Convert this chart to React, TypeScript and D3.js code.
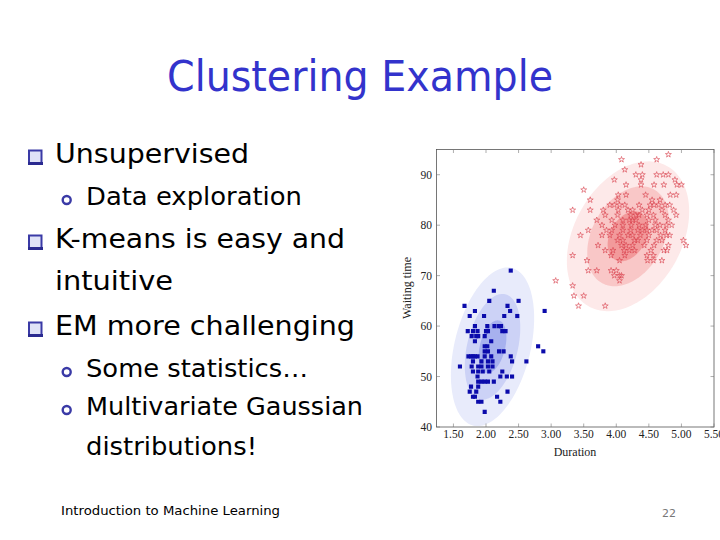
import React from "react";
import * as d3 from "d3";

// ---------- data ----------
const xTicks = [1.5, 2.0, 2.5, 3.0, 3.5, 4.0, 4.5, 5.0, 5.5];
const yTicks = [40, 50, 60, 70, 80, 90];

// cluster 1 (blue squares): [duration, waiting]
const bluePoints: [number, number][] = [
  [2.38, 71], [2.12, 67], [2.05, 65], [2.50, 65], [1.67, 64], [2.33, 64], [1.83, 63], [2.37, 63], [2.90, 63],
  [1.75, 62], [1.97, 62], [2.28, 62], [2.48, 62], [1.83, 60], [2.02, 60], [2.13, 60], [2.20, 60], [2.23, 60],
  [1.72, 59], [1.80, 59], [1.87, 59], [2.00, 59], [2.03, 59], [2.25, 59], [2.30, 59], [1.78, 58], [1.85, 58],
  [1.88, 58], [1.98, 58], [1.83, 57], [2.08, 57], [1.98, 56], [2.02, 56], [2.80, 56], [1.98, 55], [2.03, 55],
  [2.20, 55], [2.27, 55], [2.88, 55], [1.73, 54], [1.77, 54], [1.80, 54], [1.83, 54], [1.87, 54], [1.98, 54],
  [2.08, 54], [2.38, 54], [1.80, 53], [1.93, 53], [2.03, 53], [2.10, 53], [2.40, 53], [2.62, 53], [1.60, 52],
  [1.78, 52], [1.88, 52], [1.93, 52], [2.03, 52], [2.10, 52], [1.80, 51], [1.88, 51], [1.95, 51], [2.05, 51],
  [2.25, 51], [1.87, 50], [2.22, 50], [2.32, 50], [2.40, 50], [1.88, 49], [1.93, 49], [1.98, 49], [2.03, 49],
  [2.12, 49], [1.77, 48], [1.88, 48], [1.75, 47], [1.85, 47], [2.33, 47], [1.80, 46], [1.83, 46], [2.17, 46],
  [1.88, 45], [1.93, 45], [2.22, 45], [1.98, 43],
];

// cluster 2 (red stars): waiting level -> durations
const redRows: [number, number[]][] = [
  [94, [4.80]],
  [93, [4.08, 4.62]],
  [92, [4.38]],
  [91, [4.13]],
  [90, [4.30, 4.40, 4.62, 4.72, 4.80]],
  [89, [3.97, 4.38, 4.90]],
  [88, [4.15, 4.38, 4.58, 4.73, 4.93, 5.00]],
  [87, [3.50]],
  [86, [4.03, 4.15, 4.45, 4.83, 4.92]],
  [85, [3.60, 4.02, 4.55, 4.67]],
  [84, [3.90, 3.97, 4.05, 4.13, 4.35, 4.52, 4.58, 4.65, 4.75, 4.82]],
  [83, [3.33, 3.60, 3.80, 4.03, 4.18, 4.25, 4.40, 4.50, 4.70, 4.88]],
  [82, [3.83, 4.02, 4.22, 4.30, 4.35, 4.47, 4.57, 4.75, 4.92]],
  [81, [3.70, 3.93, 4.10, 4.20, 4.25, 4.30, 4.50, 4.60, 4.80]],
  [80, [3.78, 3.98, 4.10, 4.23, 4.35, 4.45, 4.60, 4.67, 4.77, 4.85]],
  [79, [3.57, 3.85, 3.93, 4.10, 4.22, 4.33, 4.40, 4.47, 4.55, 4.62, 4.75]],
  [78, [3.45, 3.78, 3.90, 4.05, 4.18, 4.25, 4.37, 4.50, 4.68, 4.77, 4.82]],
  [77, [4.02, 4.10, 4.28, 4.33, 4.47, 4.62, 4.70, 5.03]],
  [76, [3.72, 4.08, 4.15, 4.25, 4.43, 4.58, 4.80, 5.07]],
  [75, [3.83, 3.95, 4.12, 4.20, 4.28, 4.53, 4.73, 4.78]],
  [74, [3.33, 3.92, 4.13, 4.47, 4.57]],
  [73, [3.55, 4.05, 4.48, 4.57, 4.70]],
  [71, [3.57, 3.70, 3.92, 4.00]],
  [70, [3.97, 4.05, 4.08]],
  [69, [3.07, 4.05]],
  [68, [3.33]],
  [66, [3.35, 3.50]],
  [64, [3.42, 3.83]],
];

// Gaussian components
const compMeanX = [2.10, 4.18];
const compMeanY = [55.9, 77.8];
const compSdX = [0.213, 0.313];
const compSdY = [5.24, 4.95];
const compRho = [0.36, 0.33];
const contourLevels = [3, 2, 1];
const compFills = [
  ["#e8ebfb", "#ccd2f6", "#a7b1ee"],
  ["#fde9e9", "#f9c7c7", "#f29a9b"],
];

const bulletLines = [
  { level: 0, text: "Unsupervised", base: 163, len: 194 },
  { level: 1, text: "Data exploration", base: 205, len: 216 },
  { level: 0, text: "K-means is easy and", base: 248, len: 290 },
  { level: -1, text: "intuitive", base: 290, len: 118 },
  { level: 0, text: "EM more challenging", base: 335, len: 300 },
  { level: 1, text: "Some statistics…", base: 377, len: 222 },
  { level: 1, text: "Multivariate Gaussian", base: 415, len: 277 },
  { level: -2, text: "distributions!", base: 455, len: 171 },
];

const W = 720, H = 540;
const plot = { left: 436.5, right: 714, top: 149.5, bottom: 427 };

export default function App() {
  const xS = d3.scaleLinear().domain([1.24, 5.5]).range([plot.left, plot.right]);
  const yS = d3.scaleLinear().domain([40, 95]).range([plot.bottom, plot.top]);

  const ellipse = (k: number, r: number) => {
    const pts: [number, number][] = d3.range(0, 2 * Math.PI, (2 * Math.PI) / 160).map((t) => {
      const x = compMeanX[k] + r * compSdX[k] * Math.cos(t);
      const y = compMeanY[k] + r * compSdY[k] * (compRho[k] * Math.cos(t) + Math.sqrt(1 - compRho[k] ** 2) * Math.sin(t));
      return [xS(x), yS(y)];
    });
    return d3.line().curve(d3.curveLinearClosed)(pts) as string;
  };

  const star = d3.symbol().type(d3.symbolStar).size(11)() as string;
  const square = d3.symbol().type(d3.symbolSquare).size(17)() as string;

  const redPoints: [number, number][] = [];
  redRows.forEach(([w, ds]) => ds.forEach((d) => redPoints.push([d, w])));

  const textFont = "'DejaVu Sans', sans-serif";
  const serif = "'Liberation Serif', 'DejaVu Serif', serif";

  return (
    <svg width={W} height={H} style={{ position: "absolute", left: 0, top: 0, background: "#fff" }}>
      <rect x={0} y={0} width={W} height={H} fill="#fff" />
      {/* Title */}
      <text x={167} y={91} fontFamily={textFont} fontSize={42} fill="#3333cc" textLength={386} lengthAdjust="spacingAndGlyphs">
        Clustering Example
      </text>

      {/* Bullets */}
      {bulletLines.map((l, i) => {
        const x = l.level === 0 || l.level === -1 ? 55 : 86;
        const size = l.level === 0 || l.level === -1 ? 26 : 24;
        return (
          <g key={i}>
            {l.level === 0 && (
              <g>
                <rect x={29} y={l.base - 12.5} width={12.5} height={12.5} fill="#dfe2f7" stroke="#3a3aa6" strokeWidth={2} />
                <rect x={28} y={l.base - 1} width={15} height={3} fill="#2a2a90" />
              </g>
            )}
            {l.level === 1 && (
              <circle cx={66.7} cy={l.base - 5} r={4} fill="none" stroke="#3a3aa6" strokeWidth={2.4} />
            )}
            <text x={x} y={l.base} fontFamily={textFont} fontSize={size} fill="#000" textLength={l.len} lengthAdjust="spacingAndGlyphs">
              {l.text}
            </text>
          </g>
        );
      })}

      {/* Footer */}
      <text x={61} y={515} fontFamily={textFont} fontSize={13} fill="#000" textLength={219} lengthAdjust="spacingAndGlyphs">
        Introduction to Machine Learning
      </text>
      <text x={669} y={517} fontFamily={textFont} fontSize={11} fill="#777" textAnchor="middle">
        22
      </text>

      {/* Chart */}
      <defs>
        <clipPath id="plotClip">
          <rect x={plot.left} y={plot.top} width={plot.right - plot.left} height={plot.bottom - plot.top} />
        </clipPath>
      </defs>
      <g clipPath="url(#plotClip)">
        {[0, 1].map((k) =>
          contourLevels.map((r, j) => <path key={`${k}-${r}`} d={ellipse(k, r)} fill={compFills[k][j]} stroke="none" />)
        )}
        {bluePoints.map(([x, y], i) => (
          <path key={`b${i}`} d={square} transform={`translate(${xS(x)},${yS(y)})`} fill="#0b0bab" />
        ))}
        {redPoints.map(([x, y], i) => (
          <path key={`r${i}`} d={star} transform={`translate(${xS(x)},${yS(y)})`} fill="none" stroke="#d8404c" strokeWidth={0.6} />
        ))}
      </g>

      {/* frame & ticks */}
      <rect x={plot.left} y={plot.top} width={plot.right - plot.left} height={plot.bottom - plot.top} fill="none" stroke="#555" strokeWidth={0.8} />
      {xTicks.map((t) => (
        <g key={`xt${t}`}>
          <line x1={xS(t)} x2={xS(t)} y1={plot.bottom} y2={plot.bottom - 3.5} stroke="#777" strokeWidth={0.6} />
          <line x1={xS(t)} x2={xS(t)} y1={plot.top} y2={plot.top + 3.5} stroke="#777" strokeWidth={0.6} />
          <text x={xS(t)} y={438} textAnchor="middle" fontFamily={serif} fontSize={11.5} fill="#222">
            {d3.format(".2f")(t)}
          </text>
        </g>
      ))}
      {yTicks.map((t) => (
        <g key={`yt${t}`}>
          <line x1={plot.left} x2={plot.left + 3.5} y1={yS(t)} y2={yS(t)} stroke="#777" strokeWidth={0.6} />
          <line x1={plot.right} x2={plot.right - 3.5} y1={yS(t)} y2={yS(t)} stroke="#777" strokeWidth={0.6} />
          <text x={432} y={yS(t) + 4} textAnchor="end" fontFamily={serif} fontSize={11.5} fill="#222">
            {t}
          </text>
        </g>
      ))}
      <text x={575} y={456} textAnchor="middle" fontFamily={serif} fontSize={12} fill="#222">
        Duration
      </text>
      <text transform={`translate(411,288) rotate(-90)`} textAnchor="middle" fontFamily={serif} fontSize={12} fill="#222">
        Waiting time
      </text>
    </svg>
  );
}
